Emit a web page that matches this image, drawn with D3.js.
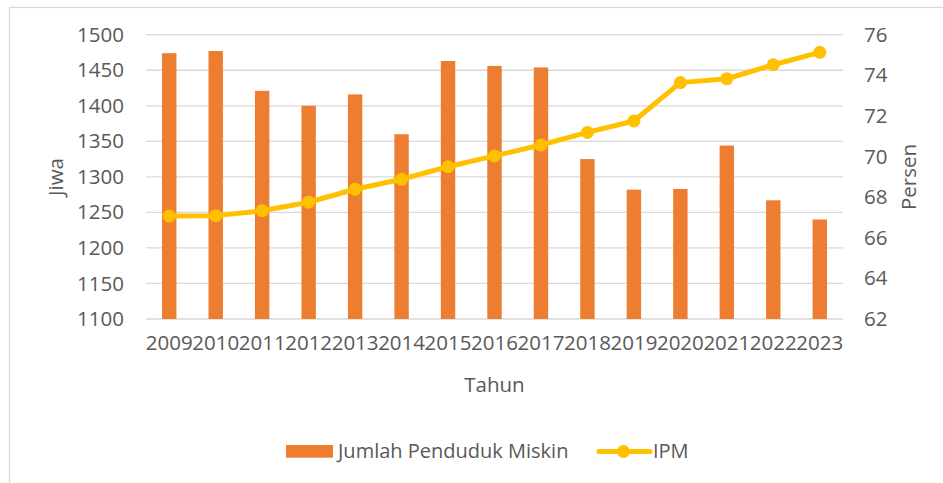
<!DOCTYPE html>
<html>
<head>
<meta charset="utf-8">
<script src="https://cdn.jsdelivr.net/npm/d3@7"></script>
<style>
  body { margin: 0; background: #fff; }
  svg text { font-family: "Open Sans", sans-serif; fill: #595959; }
</style>
</head>
<body>
<div id="chart"></div>
<script>
// data
var years = ["2009","2010","2011","2012","2013","2014","2015","2016","2017","2018","2019","2020","2021","2022","2023"];
var miskin = [1474, 1477, 1421, 1400, 1416, 1360, 1463, 1456, 1454, 1325, 1282, 1283, 1344, 1267, 1240];
var ipm = [67.07, 67.09, 67.33, 67.75, 68.39, 68.88, 69.5, 70.03, 70.57, 71.19, 71.75, 73.64, 73.83, 74.52, 75.13];
var leftTicks = [1100, 1150, 1200, 1250, 1300, 1350, 1400, 1450, 1500];
var rightTicks = [62, 64, 66, 68, 70, 72, 74, 76];

var width = 943, height = 483;
var plot = { left: 146, right: 843, top: 34.7, bottom: 319 };

var svg = d3.select("#chart").append("svg")
  .attr("width", width)
  .attr("height", height);

// chart border (cut off on right and bottom)
svg.append("rect")
  .attr("x", 9.5).attr("y", 7.5)
  .attr("width", 1000).attr("height", 600)
  .attr("fill", "none")
  .attr("stroke", "#d9d9d9")
  .attr("stroke-width", 1.3);

var x = d3.scaleBand()
  .domain(years)
  .range([plot.left, plot.right])
  .padding(0);

var yL = d3.scaleLinear().domain([1100, 1500]).range([plot.bottom, plot.top]);
var yR = d3.scaleLinear().domain([62, 76]).range([plot.bottom, plot.top]);

// gridlines
svg.append("g").selectAll("line")
  .data(leftTicks)
  .enter().append("line")
  .attr("x1", plot.left).attr("x2", plot.right)
  .attr("y1", d => yL(d)).attr("y2", d => yL(d))
  .attr("stroke", "#d9d9d9")
  .attr("stroke-width", 1.3);

// left axis
var leftAxis = svg.append("g")
  .attr("transform", "translate(" + plot.left + ",0)")
  .call(d3.axisLeft(yL).tickValues(leftTicks).tickFormat(d3.format("d")).tickSize(0).tickPadding(22));
leftAxis.select(".domain").remove();
leftAxis.selectAll("text").style("font-size", "20.5px").attr("fill", "#595959");

// right axis
var rightAxis = svg.append("g")
  .attr("transform", "translate(" + plot.right + ",0)")
  .call(d3.axisRight(yR).tickValues(rightTicks).tickSize(0).tickPadding(21));
rightAxis.select(".domain").remove();
rightAxis.selectAll("text").style("font-size", "20.5px").attr("fill", "#595959");

// bottom axis
var bottomAxis = svg.append("g")
  .attr("transform", "translate(0," + plot.bottom + ")")
  .call(d3.axisBottom(x).tickSize(0).tickPadding(16));
bottomAxis.select(".domain").remove();
bottomAxis.selectAll("text").style("font-size", "20.5px").attr("fill", "#595959");

// bars
var barW = x.bandwidth() * 0.31;
svg.append("g").selectAll("rect")
  .data(miskin)
  .enter().append("rect")
  .attr("x", (d, i) => x(years[i]) + x.bandwidth() / 2 - barW / 2)
  .attr("y", d => yL(d))
  .attr("width", barW)
  .attr("height", d => yL(1100) - yL(d))
  .attr("fill", "#ed7d31");

// IPM line
var line = d3.line()
  .x((d, i) => x(years[i]) + x.bandwidth() / 2)
  .y(d => yR(d));

svg.append("path")
  .datum(ipm)
  .attr("d", line)
  .attr("fill", "none")
  .attr("stroke", "#ffc000")
  .attr("stroke-width", 5)
  .attr("stroke-linejoin", "round");

svg.append("g").selectAll("circle")
  .data(ipm)
  .enter().append("circle")
  .attr("cx", (d, i) => x(years[i]) + x.bandwidth() / 2)
  .attr("cy", d => yR(d))
  .attr("r", 6.5)
  .attr("fill", "#ffc000");

// axis titles
svg.append("text")
  .attr("transform", "translate(63,177) rotate(-90)")
  .attr("text-anchor", "middle")
  .style("font-size", "20.5px")
  .text("Jiwa");

svg.append("text")
  .attr("transform", "translate(916,177) rotate(-90)")
  .attr("text-anchor", "middle")
  .style("font-size", "20.5px")
  .text("Persen");

svg.append("text")
  .attr("x", (plot.left + plot.right) / 2)
  .attr("y", 392)
  .attr("text-anchor", "middle")
  .style("font-size", "20.5px")
  .text("Tahun");

// legend
var legend = svg.append("g");
legend.append("rect")
  .attr("x", 286).attr("y", 445)
  .attr("width", 47).attr("height", 12.7)
  .attr("fill", "#ed7d31");
legend.append("text")
  .attr("x", 338).attr("y", 458)
  .style("font-size", "20px")
  .text("Jumlah Penduduk Miskin");
legend.append("line")
  .attr("x1", 599).attr("x2", 650)
  .attr("y1", 451.5).attr("y2", 451.5)
  .attr("stroke", "#ffc000")
  .attr("stroke-width", 5)
  .attr("stroke-linecap", "round");
legend.append("circle")
  .attr("cx", 623.5).attr("cy", 451.5)
  .attr("r", 6.5)
  .attr("fill", "#ffc000");
legend.append("text")
  .attr("x", 653).attr("y", 458)
  .style("font-size", "20px")
  .text("IPM");
</script>
</body>
</html>
